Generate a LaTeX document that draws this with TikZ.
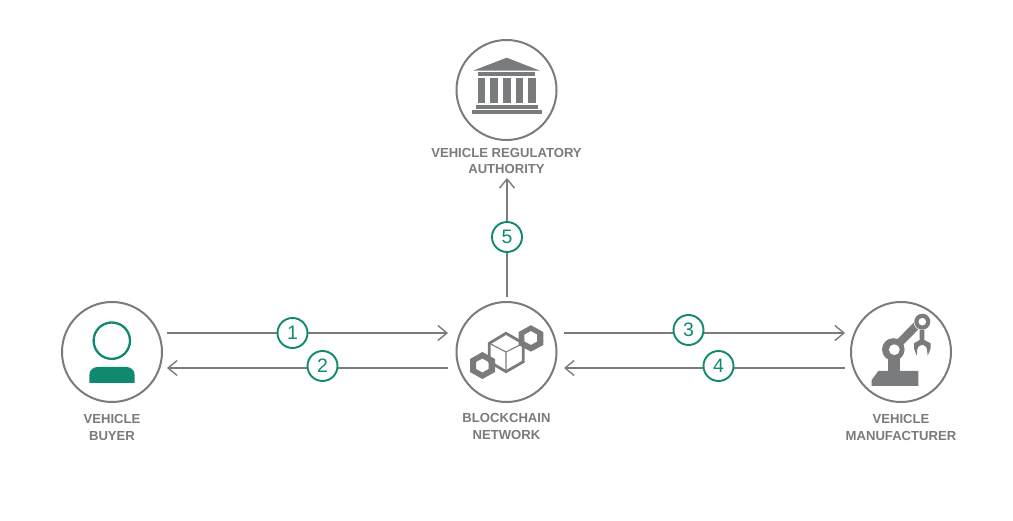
\documentclass[tikz,border=0pt]{standalone}
\usepackage{fontspec}
\setmainfont{Liberation Sans}
\definecolor{gr}{HTML}{7A7B7D}
\definecolor{tl}{HTML}{0F8A70}
\usetikzlibrary{arrows.meta}
\tikzset{
  x=1pt,y=-1pt,
  icon/.style={circle,draw=gr,line width=2pt,minimum size=100pt,inner sep=0pt,fill=white},
  lab/.style={text=gr,font=\fontsize{13.1}{16.8}\selectfont\bfseries,align=center,inner sep=0pt},
  conn/.style={draw=gr,line width=1.9pt,-{Straight Barb[length=9pt,width=15pt,line width=1.4pt]}},
  num/.style={circle,draw=tl,line width=1.9pt,fill=white,minimum size=30pt,inner sep=0pt,text=tl,font=\fontsize{19.5}{19.5}\selectfont}
}
\begin{document}
\begin{tikzpicture}
\useasboundingbox (0,0) rectangle (1013,521);
\fill[white] (0,0) rectangle (1013,521);
\node[icon] (bank) at (506.5,90) {};
\node[icon] (chain) at (506.5,352) {};
\node[icon] (buyer) at (112,352) {};
\node[icon] (maker) at (901,352) {};
\node[lab] (bankl) at (506.5,161) {VEHICLE REGULATORY\\AUTHORITY};
\node[lab] (chainl) at (506.5,426.5) {BLOCKCHAIN\\NETWORK};
\node[lab] (buyerl) at (112,427.5) {VEHICLE\\BUYER};
\node[lab] (makerl) at (901,427.5) {VEHICLE\\MANUFACTURER};
% connectors
\coordinate (a1) at (167,333); \coordinate (b1) at (448,333);
\coordinate (a2) at (448,368); \coordinate (b2) at (167,368);
\coordinate (a3) at (564,333); \coordinate (b3) at (845,333);
\coordinate (a4) at (845,368); \coordinate (b4) at (564,368);
\coordinate (a5) at (507,297); \coordinate (b5) at (507,178);
\draw[conn] (a1) -- (b1);
\draw[conn] (a2) -- (b2);
\draw[conn] (a3) -- (b3);
\draw[conn] (a4) -- (b4);
\draw[conn] (a5) -- (b5);
\node[num] (n1) at (292.5,333) {1};
\node[num] (n2) at (322.5,366) {2};
\node[num] (n3) at (688.5,330) {3};
\node[num] (n4) at (718.5,366) {4};
\node[num] (n5) at (507,237) {5};
% bank
\fill[gr] (506.7,57.7) -- (540,70.7) -- (473,70.7) -- cycle;
\fill[gr] (477.7,72.3) rectangle (535.3,76);
\fill[gr] (477.7,77.7) rectangle (485.3,103.3);
\fill[gr] (490.3,77.7) rectangle (498,103.3);
\fill[gr] (503,77.7) rectangle (510.7,103.3);
\fill[gr] (515.7,77.7) rectangle (523.3,103.3);
\fill[gr] (528,77.7) rectangle (535.7,103.3);
\fill[gr] (475.7,104.7) rectangle (537.7,108.7);
\fill[gr] (471.7,110.3) rectangle (541.7,114.3);
% buyer
\draw[tl,line width=2.3pt] (111.8,340.7) circle (18.2);
\fill[tl] (89.3,383) -- (89.3,375) arc[start angle=180,end angle=270,radius=8] -- (126.7,367) arc[start angle=-90,end angle=0,radius=8] -- (134.7,383) -- cycle;
% chain
\draw[gr,line width=2.8pt,line join=miter] (506,333.3) -- (523.3,343.3) -- (523.3,361.7) -- (506,371.7) -- (489.3,361.7) -- (489.3,343.3) -- cycle;
\draw[gr,line width=1.1pt] (489.3,343.3) -- (506,352) -- (523.3,343.3) (506,352) -- (506,371.7);
\fill[gr,even odd rule] (482.4,352) -- (495,359) -- (495,372) -- (482.4,379) -- (470,372) -- (470,359) -- cycle
 (482.4,358.5) -- (488.6,362) -- (488.6,369) -- (482.4,372.5) -- (476,369) -- (476,362) -- cycle;
\fill[gr,even odd rule] (530.9,325.2) -- (543.3,332) -- (543.3,345) -- (530.9,351.6) -- (518.7,345) -- (518.7,332) -- cycle
 (530.9,331) -- (537.2,334.5) -- (537.2,341.5) -- (530.9,345) -- (524.4,341.5) -- (524.4,334.5) -- cycle;
% robot
\fill[gr] (871.7,386) -- (871.7,380) -- (878.3,371) -- (918.3,371) -- (918.3,386) -- cycle;
\fill[gr] (887.7,355) rectangle (900,372);
\draw[gr,line width=8pt] (893.3,349) -- (919,323);
\fill[gr] (893.3,349.5) circle (11.3);
\fill[white] (894.3,349.7) circle (5.4);
\fill[white] (922.3,321.7) circle (8.8);
\fill[gr] (922.3,321.7) circle (8);
\fill[white] (922.3,321.7) circle (3.8);
\begin{scope}[shift={(865,310)},x=0.3333pt,y=-0.3333pt]
\fill[gr] (164,60) -- (178,60) -- (178,90) -- (197,100) -- (197,115) -- (188,137) -- (186,118) -- (183,110) -- (172,104) -- (160,110) -- (157,118) -- (155,137) -- (147,115) -- (147,100) -- (164,90) -- cycle;
\end{scope}
\end{tikzpicture}
\end{document}
